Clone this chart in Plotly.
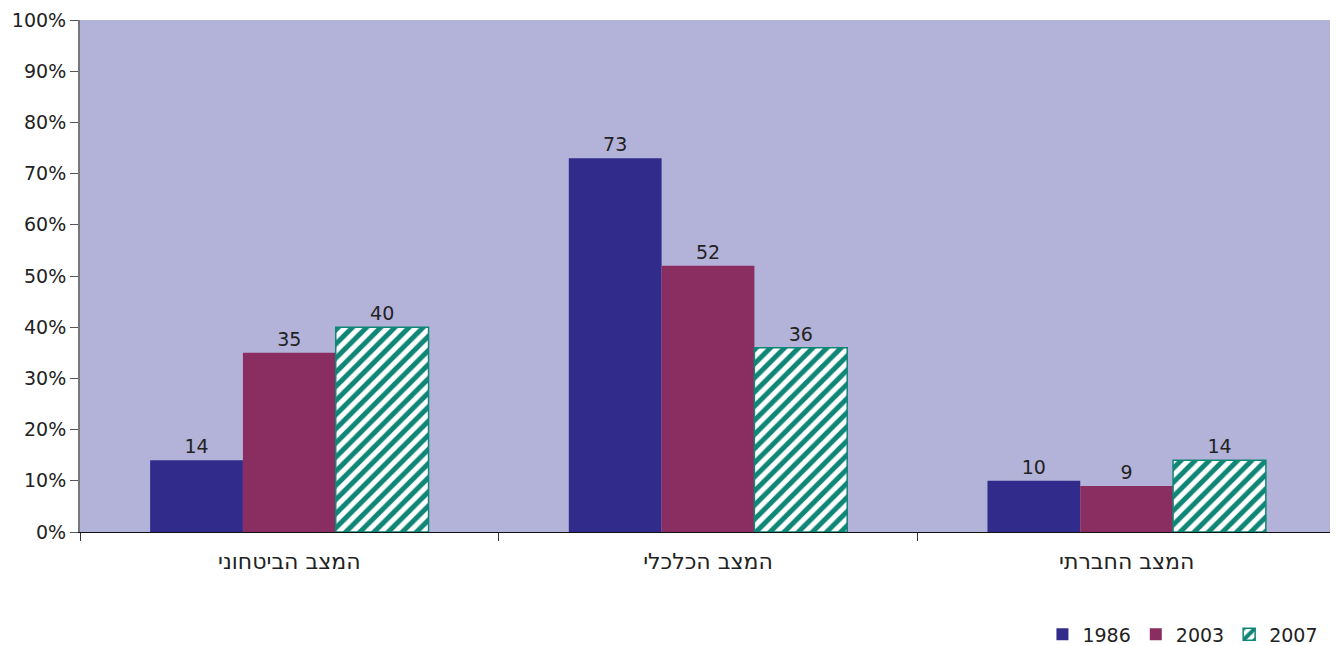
import plotly.graph_objects as go

categories = ["המצב הביטחוני", "המצב הכלכלי", "המצב החברתי"]
years = ["1986", "2003", "2007"]
v1986 = [14, 73, 10]
v2003 = [35, 52, 9]
v2007 = [40, 36, 14]
tick_vals = [0, 10, 20, 30, 40, 50, 60, 70, 80, 90, 100]
tick_text = [f"{v}%" for v in tick_vals]

FONT = "DejaVu Sans, Open Sans, sans-serif"
TXT = dict(family=FONT, size=19, color="#222222")

fig = go.Figure()
fig.add_trace(go.Bar(name=years[0], x=categories, y=v1986, marker=dict(color="#312C8C", line=dict(width=0)),
                     text=v1986, textposition="outside", textfont=TXT, cliponaxis=False))
fig.add_trace(go.Bar(name=years[1], x=categories, y=v2003, marker=dict(color="#8A2D60", line=dict(width=0)),
                     text=v2003, textposition="outside", textfont=TXT, cliponaxis=False))
fig.add_trace(go.Bar(name=years[2], x=categories, y=v2007,
                     marker=dict(color="white", line=dict(color="#0F8676", width=1.5),
                                 pattern=dict(shape="/", fgcolor="#0F8676", bgcolor="white", fgopacity=1,
                                              size=10, solidity=0.5)),
                     text=v2007, textposition="outside", textfont=TXT, cliponaxis=False))

# page body has an 8px margin, so the figure is sized/offset to compensate
fig.update_layout(
    width=1330, height=637,
    barmode="group", bargap=0.335, bargroupgap=0,
    plot_bgcolor="#B3B2D9", paper_bgcolor="white",
    margin=dict(l=72, r=2, t=12, b=113, autoexpand=False),
    font=dict(family=FONT, size=19, color="#222222"),
    showlegend=True,
    legend=dict(orientation="h", x=0.99, xanchor="right", y=-0.2, yanchor="middle",
                font=dict(family=FONT, size=19, color="#222222"), traceorder="normal"),
)
fig.update_yaxes(range=[0, 100], tickvals=tick_vals, ticktext=tick_text, showgrid=False, automargin=False,
                 ticklabeloverflow="allow",
                 ticks="outside", ticklen=8, tickcolor="#555555", showline=True, linecolor="#777777",
                 linewidth=2, zeroline=False, tickfont=dict(family=FONT, size=19, color="#222222"))
fig.update_xaxes(showgrid=False, ticks="outside", tickson="boundaries", ticklen=8, tickcolor="#333333",
                 showline=True, linecolor="#111111", linewidth=1, automargin=False,
                 ticklabeloverflow="allow", ticklabelstandoff=10,
                 tickfont=dict(family=FONT, size=22, color="#222222"))

fig.write_html("out.html")
